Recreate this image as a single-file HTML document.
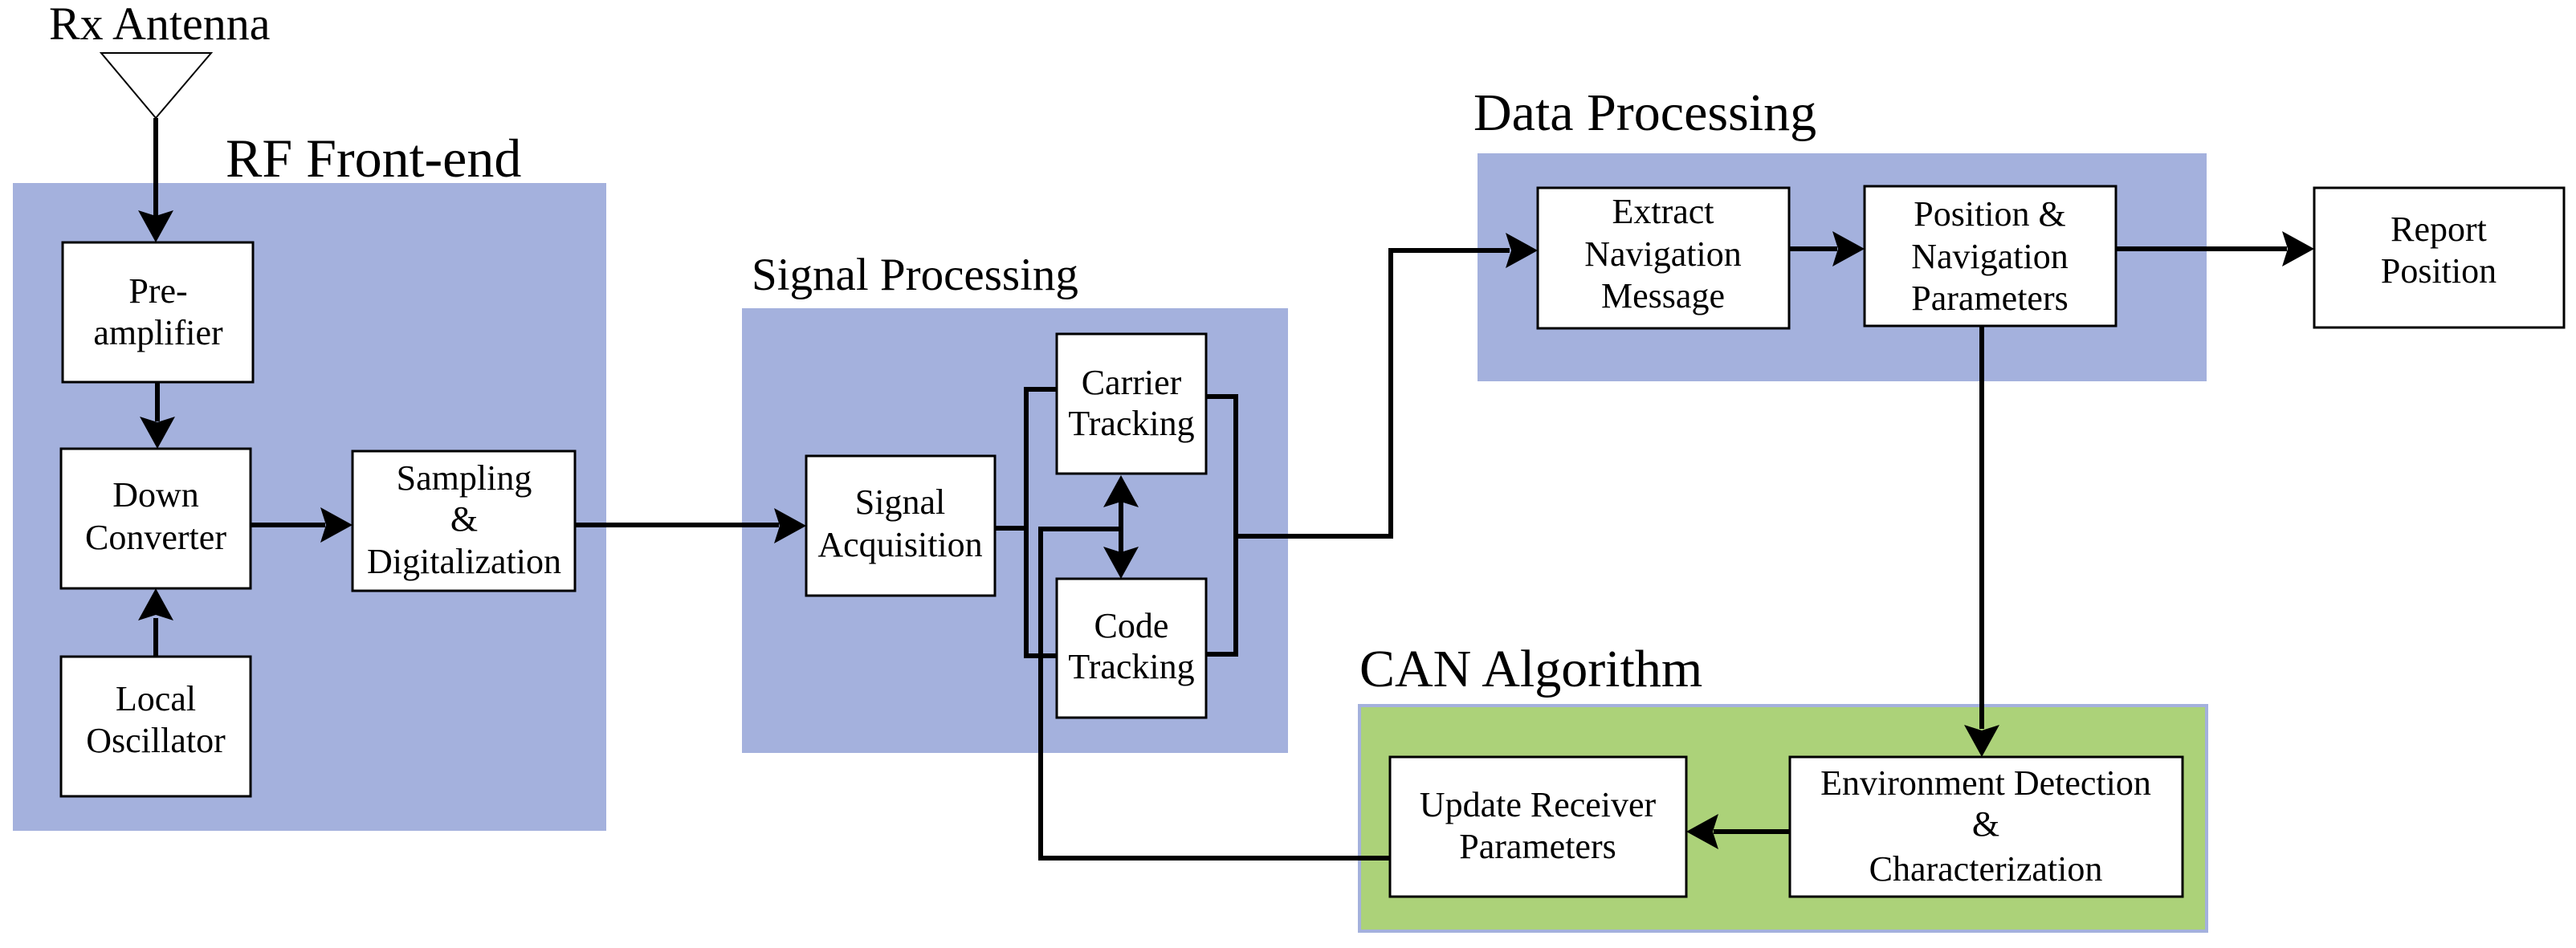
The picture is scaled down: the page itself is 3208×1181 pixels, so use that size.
<!DOCTYPE html>
<html><head><meta charset="utf-8"><style>
html,body{margin:0;padding:0;background:#fff;}
svg{display:block;font-family:"Liberation Serif","Times New Roman",serif;}
svg text{font-family:"Liberation Serif","Times New Roman",serif !important;fill:#000;}
.b{fill:#fff;stroke:#000;stroke-width:3;}
.l{fill:none;stroke:#000;stroke-width:6;}
</style></head><body>
<svg width="3208" height="1181" viewBox="0 0 3208 1181" xmlns="http://www.w3.org/2000/svg" font-family="Liberation Serif, serif">
<defs>
<path id="ad" d="M0,0 L-22,-40 L0,-33 L22,-40 Z"/>
</defs>
<rect x="16" y="228" width="739" height="807" fill="#a4b1dd"/>
<rect x="924" y="384" width="680" height="554" fill="#a4b1dd"/>
<rect x="1840" y="191" width="908" height="284" fill="#a4b1dd"/>
<rect x="1693" y="879" width="1055" height="281" fill="#acd279" stroke="#a4b1dd" stroke-width="4"/>

<g font-family="Liberation Serif, serif">
<text x="61" y="49" font-size="58">Rx Antenna</text>
<text x="281" y="220" font-size="68">RF Front-end</text>
<text x="936" y="361" font-size="57">Signal Processing</text>
<text x="1835" y="162" font-size="66">Data Processing</text>
<text x="1693" y="855" font-size="66">CAN Algorithm</text>
</g>

<polygon points="126,66 263,66 194,147" fill="#fff" stroke="#000" stroke-width="2"/>

<g class="l">
<path d="M194,147 V270"/>
<path d="M196,476 V525"/>
<path d="M194,818 V770"/>
<path d="M312,654 H405"/>
<path d="M716,654 H970"/>
<path d="M1239,658 H1278 M1316,485 H1278 V817 H1316"/>
<path d="M1502,494 H1539 V815 H1502 M1539,668 H1732 V312 H1880"/>
<path d="M1396,625 V690"/>
<path d="M1396,659 H1296 V1069 H1731"/>
<path d="M2228,310 H2288"/>
<path d="M2635,310 H2848"/>
<path d="M2468,406 V908"/>
<path d="M2229,1036 H2134"/>
</g>
<g fill="#000">
<use href="#ad" transform="translate(194,302)"/>
<use href="#ad" transform="translate(196,559)"/>
<use href="#ad" transform="translate(194,733) rotate(180)"/>
<use href="#ad" transform="translate(439,654) rotate(-90)"/>
<use href="#ad" transform="translate(1004,655) rotate(-90)"/>
<use href="#ad" transform="translate(1396,592) rotate(180)"/>
<use href="#ad" transform="translate(1396,721)"/>
<use href="#ad" transform="translate(1915,312) rotate(-90)"/>
<use href="#ad" transform="translate(2322,310) rotate(-90)"/>
<use href="#ad" transform="translate(2882,310) rotate(-90)"/>
<use href="#ad" transform="translate(2468,943)"/>
<use href="#ad" transform="translate(2100,1036) rotate(90)"/>
</g>

<rect class="b" x="78" y="302" width="237" height="174"/>
<rect class="b" x="76" y="559" width="236" height="174"/>
<rect class="b" x="76" y="818" width="236" height="174"/>
<rect class="b" x="439" y="562" width="277" height="174"/>
<rect class="b" x="1004" y="568" width="235" height="174"/>
<rect class="b" x="1316" y="416" width="186" height="174"/>
<rect class="b" x="1316" y="721" width="186" height="173"/>
<rect class="b" x="1915" y="234" width="313" height="175"/>
<rect class="b" x="2322" y="232" width="313" height="174"/>
<rect class="b" x="2882" y="234" width="311" height="174"/>
<rect class="b" x="1731" y="943" width="369" height="174"/>
<rect class="b" x="2229" y="943" width="489" height="174"/>

<g font-family="Liberation Serif, serif" font-size="44" text-anchor="middle">
<text x="197" y="377">Pre-</text><text x="197" y="429">amplifier</text>
<text x="194" y="631">Down</text><text x="194" y="684">Converter</text>
<text x="194" y="885">Local</text><text x="194" y="937">Oscillator</text>
<text x="578" y="610">Sampling</text><text x="578" y="661">&amp;</text><text x="578" y="714">Digitalization</text>
<text x="1121" y="640">Signal</text><text x="1121" y="693">Acquisition</text>
<text x="1409" y="491">Carrier</text><text x="1409" y="542">Tracking</text>
<text x="1409" y="794">Code</text><text x="1409" y="845">Tracking</text>
<text x="2071" y="278">Extract</text><text x="2071" y="331">Navigation</text><text x="2071" y="383">Message</text>
<text x="2478" y="281">Position &amp;</text><text x="2478" y="334">Navigation</text><text x="2478" y="386">Parameters</text>
<text x="3037" y="300">Report</text><text x="3037" y="352">Position</text>
<text x="1915" y="1017">Update Receiver</text><text x="1915" y="1069">Parameters</text>
<text x="2473" y="990">Environment Detection</text><text x="2473" y="1041">&amp;</text><text x="2473" y="1097">Characterization</text>
</g>
</svg>
</body></html>
